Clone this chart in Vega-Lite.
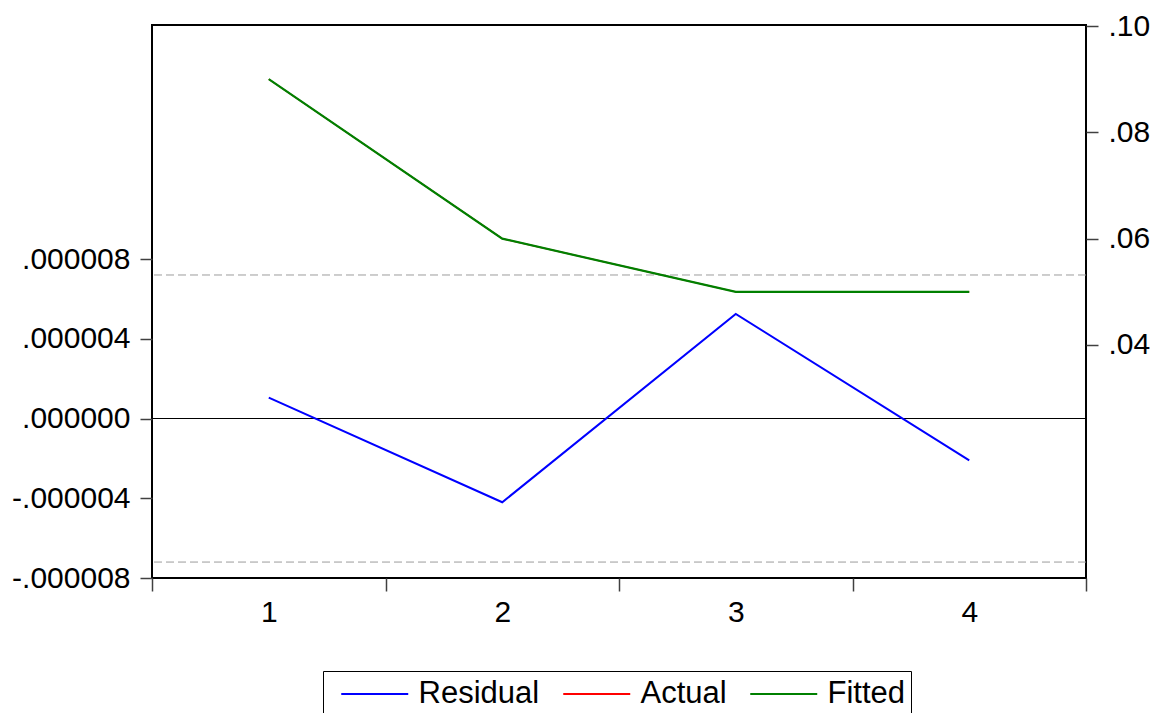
{
  "$schema": "https://vega.github.io/schema/vega-lite/v6.json",
  "width": 934,
  "height": 553,
  "autosize": {"type": "none"},
  "padding": {"left": 152, "top": 25, "right": 75, "bottom": 135},
  "background": "white",
  "config": {
    "view": {"stroke": "black", "strokeWidth": 2},
    "font": "Liberation Sans",
    "axis": {
      "labelFont": "Liberation Sans",
      "labelFontSize": 30,
      "labelColor": "black",
      "tickColor": "#404040",
      "tickWidth": 1.5,
      "grid": false,
      "domain": false,
      "title": null
    }
  },
  "datasets": {
    "resid": [
      {"t": 1, "series": "Residual", "value": 0.00000105},
      {"t": 2, "series": "Residual", "value": -0.0000042},
      {"t": 3, "series": "Residual", "value": 0.00000525},
      {"t": 4, "series": "Residual", "value": -0.0000021}
    ],
    "fit": [
      {"t": 1, "series": "Actual", "value": 0.09},
      {"t": 2, "series": "Actual", "value": 0.06},
      {"t": 3, "series": "Actual", "value": 0.05},
      {"t": 4, "series": "Actual", "value": 0.05},
      {"t": 1, "series": "Fitted", "value": 0.09},
      {"t": 2, "series": "Fitted", "value": 0.06},
      {"t": 3, "series": "Fitted", "value": 0.05},
      {"t": 4, "series": "Fitted", "value": 0.05}
    ],
    "bands": [
      {"level": 0.0000072},
      {"level": -0.0000072}
    ],
    "zero": [
      {"level": 0}
    ]
  },
  "layer": [
    {
      "layer": [
        {
          "data": {"name": "bands"},
          "mark": {"type": "rule", "color": "#9c9c9c", "strokeWidth": 1, "strokeDash": [8, 4]},
          "encoding": {
            "y": {"field": "level", "type": "quantitative", "scale": {"domain": [-0.000008, 0.00001974], "nice": false, "zero": false}}
          }
        },
        {
          "data": {"name": "zero"},
          "mark": {"type": "rule", "color": "black", "strokeWidth": 1.2},
          "encoding": {
            "y": {"field": "level", "type": "quantitative"}
          }
        },
        {
          "data": {"name": "resid"},
          "mark": {"type": "line", "strokeWidth": 2},
          "encoding": {
            "x": {
              "field": "t", "type": "quantitative",
              "scale": {"domain": [0.5, 4.5], "nice": false, "zero": false},
              "axis": {
                "values": [0.5, 1, 1.5, 2, 2.5, 3, 3.5, 4, 4.5],
                "labelExpr": "datum.value % 1 === 0 ? format(datum.value, 'd') : ''",
                "tickOpacity": {"condition": {"test": "datum.value % 1 === 0", "value": 0}, "value": 1},
                "tickSize": 13,
                "labelPadding": 6,
                "labelFlush": false,
                "labelOverlap": false
              }
            },
            "y": {
              "field": "value", "type": "quantitative",
              "axis": {
                "orient": "left",
                "values": [-0.000008, -0.000004, 0, 0.000004, 0.000008],
                "labelExpr": "(datum.value < -1e-9 ? '-' : '') + replace(format(abs(datum.value), '.6f'), '0.', '.')",
                "tickSize": 12,
                "labelPadding": 10,
                "labelOverlap": false,
                "labelFlush": false
              }
            },
            "color": {
              "field": "series", "type": "nominal",
              "scale": {"domain": ["Residual", "Actual", "Fitted"], "range": ["#0000ff", "#ff0000", "#008000"]},
              "legend": {
                "title": null,
                "orient": "none",
                "legendX": 171,
                "legendY": 646,
                "direction": "horizontal",
                "symbolType": "M-0.284,0H3.716",
                "symbolSize": 1122,
                "symbolStrokeWidth": 2,
                "symbolFillColor": "transparent",
                "labelFont": "Liberation Sans",
                "labelFontSize": 31,
                "labelColor": "black",
                "labelOffset": 54.5,
                "columnPadding": 10,
                "padding": 5,
                "strokeColor": "black",
                "fillColor": "white"
              }
            }
          }
        }
      ]
    },
    {
      "layer": [
        {
          "data": {"name": "fit"},
          "transform": [{"filter": "datum.series === 'Actual'"}],
          "mark": {"type": "line", "strokeWidth": 1.4},
          "encoding": {
            "x": {"field": "t", "type": "quantitative"},
            "y": {
              "field": "value", "type": "quantitative",
              "scale": {"domain": [-0.00384, 0.1002], "nice": false, "zero": false},
              "axis": {
                "orient": "right",
                "values": [0.04, 0.06, 0.08, 0.1],
                "labelExpr": "replace(format(datum.value, '.2f'), '0.', '.')",
                "tickSize": 12,
                "labelPadding": 10,
                "labelOverlap": false,
                "labelFlush": false
              }
            },
            "color": {"field": "series", "type": "nominal"}
          }
        },
        {
          "data": {"name": "fit"},
          "transform": [{"filter": "datum.series === 'Fitted'"}],
          "mark": {"type": "line", "strokeWidth": 2.2},
          "encoding": {
            "x": {"field": "t", "type": "quantitative"},
            "y": {"field": "value", "type": "quantitative"},
            "color": {"field": "series", "type": "nominal"}
          }
        }
      ]
    }
  ],
  "resolve": {"scale": {"y": "independent"}}
}
